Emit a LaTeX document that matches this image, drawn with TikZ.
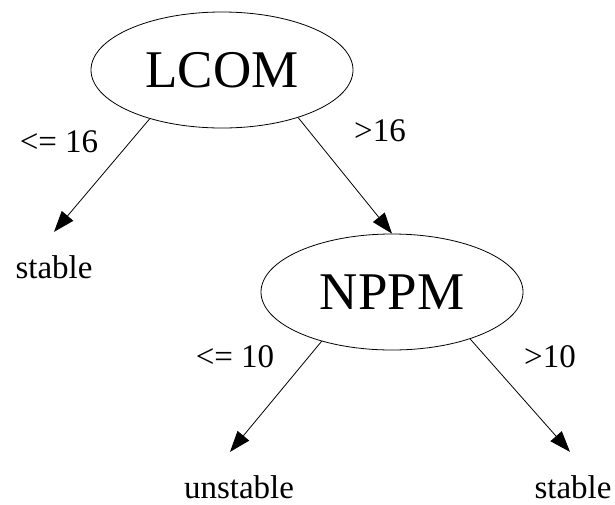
\documentclass[tikz,border=0pt]{standalone}
\usepackage{fontspec}
\setmainfont{Liberation Serif}
\usetikzlibrary{arrows.meta,shapes.geometric}
\begin{document}
\begin{tikzpicture}[x=1pt,y=-1pt,
  decision/.style={draw,ellipse,line width=0.8pt,minimum width=262pt,minimum height=116pt,inner sep=0pt,font=\fontsize{53}{60}\selectfont},
  leaf/.style={anchor=base,inner xsep=0pt,inner ysep=23pt,font=\fontsize{33}{40}\selectfont},
  elabel/.style={anchor=base,inner sep=0pt,font=\fontsize{33}{40}\selectfont},
  edge/.style={line width=0.8pt,-{Triangle[length=21pt,width=15pt]}}]
\useasboundingbox (0,0) rectangle (615,504);
\node[decision] (lcom) at (222,70) {LCOM};
\node[decision] (nppm) at (392,292) {NPPM};
\node[leaf] (stableA) at (54,278) {stable};
\node[leaf] (unstable) at (239,498) {unstable};
\node[leaf] (stableB) at (573,498) {stable};
\node[elabel] (l16) at (59,152) {<= 16};
\node[elabel] (g16) at (380,141) {>16};
\node[elabel] (l10) at (235,367) {<= 10};
\node[elabel] (g10) at (550,367) {>10};
\coordinate (uin) at ([xshift=-9pt]unstable.north);
\coordinate (sin) at ([xshift=-3pt]stableB.north);
\draw[edge] (lcom.214) -- (stableA.north);
\draw[edge] (lcom.328) -- (nppm.north);
\draw[edge] (nppm.215) -- (uin);
\draw[edge] (nppm.329) -- (sin);
\end{tikzpicture}
\end{document}
